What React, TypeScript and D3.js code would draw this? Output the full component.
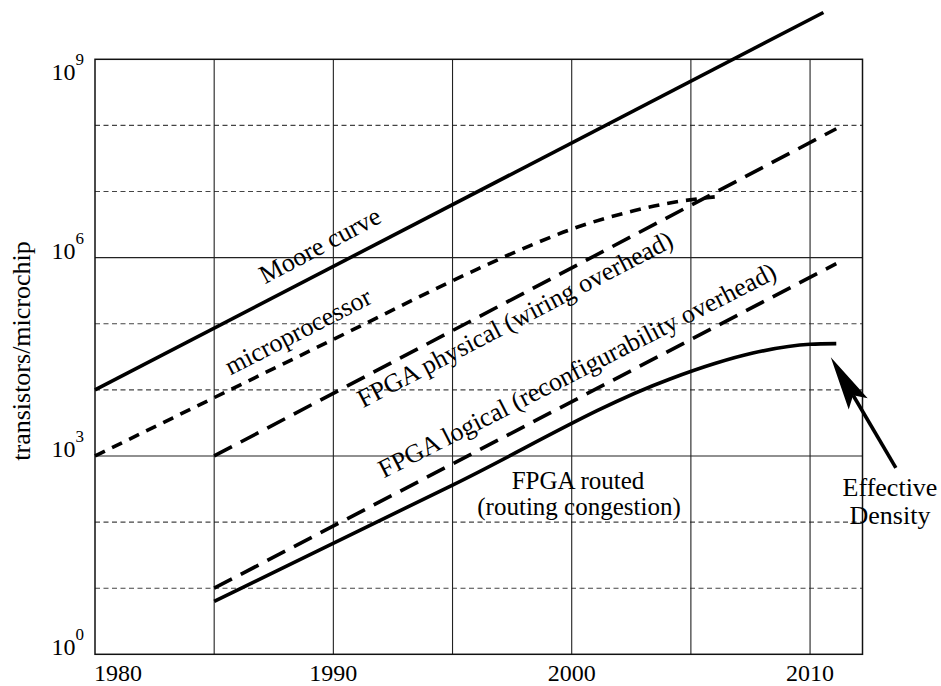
import React from 'react';
import * as d3 from 'd3';

// years / transistor counts
const xTickYears = [1980, 1990, 2000, 2010];
const gridYears = [1985, 1990, 1995, 2000, 2005, 2010];
const gridDecades = [1e1, 1e2, 1e3, 1e4, 1e5, 1e6, 1e7, 1e8];
const solidDecades = [1e3, 1e6];
const yTickExponents = [0, 3, 6, 9];

const mooreCurve: [number, number][] = [[1980, 1e4], [2010.56, 5.1e9]];
const microprocessor: [number, number][] = [
  [1980, 1e3], [1990, 5.8e4], [1996, 6.6e5], [1998.4, 1.6e6],
  [2000, 2.7e6], [2002.6, 5.1e6], [2004, 6.6e6], [2006, 8.3e6],
];
const fpgaPhysical: [number, number][] = [[1985, 1e3], [2011.1, 8.9e7]];
const fpgaLogical: [number, number][] = [[1985, 1e1], [2011.1, 8.1e5]];
const fpgaRouted: [number, number][] = [
  [1985, 6.3], [1995, 363], [2004.1, 1.45e4], [2006, 2.5e4],
  [2007.6, 3.6e4], [2010, 4.9e4], [2011.1, 5.0e4],
];

const W = 941;
const H = 686;
const FONT = '"Liberation Serif", "Times New Roman", serif';

const App = () => {
  const x = d3.scaleLinear().domain([1980, 2012.2]).range([95, 862.5]);
  const y = d3.scaleLog().domain([1, 1e9]).range([654.3, 59.3]);
  const left = x(1980);
  const right = x(2012.2);
  const top = y(1e9);
  const bottom = y(1);

  const line = d3.line<[number, number]>()
    .x(d => x(d[0]))
    .y(d => y(d[1]))
    .curve(d3.curveMonotoneX);

  const series = [
    { data: mooreCurve, dash: null },
    { data: microprocessor, dash: '11 8' },
    { data: fpgaPhysical, dash: '20 10' },
    { data: fpgaLogical, dash: '20 10' },
    { data: fpgaRouted, dash: null },
  ];

  // rotated curve labels (baseline centre, angle)
  const labels = [
    { text: 'Moore curve', x: 324, y: 253, angle: -28 },
    { text: 'microprocessor', x: 302, y: 339, angle: -27 },
    { text: 'FPGA physical (wiring overhead)', x: 519, y: 327, angle: -27.5 },
    { text: 'FPGA logical (reconfigurability overhead)', x: 581, y: 378, angle: -27 },
  ];

  // arrow pointing at the end of the routed curve
  const tail: [number, number] = [x(2013.6), y(660)];
  const tip: [number, number] = [x(2010.87), y(3.1e4)];
  const dx = tail[0] - tip[0];
  const dy = tail[1] - tip[1];
  const len = Math.hypot(dx, dy);
  const ux = dx / len, uy = dy / len;
  const px = uy, py = -ux;
  const head = [
    [tip[0], tip[1]],
    [tip[0] + 54 * ux + 11 * px, tip[1] + 54 * uy + 11 * py],
    [tip[0] + 44 * ux, tip[1] + 44 * uy],
    [tip[0] + 54 * ux - 11 * px, tip[1] + 54 * uy - 11 * py],
  ].map(p => p.join(',')).join(' ');

  return (
    <svg width={W} height={H} style={{ position: 'absolute', left: 0, top: 0, background: '#fff' }}
      fontFamily={FONT}>
      {/* horizontal grid */}
      {gridDecades.map(v => (
        <line key={'h' + v} x1={left} x2={right} y1={y(v)} y2={y(v)}
          stroke={solidDecades.includes(v) ? '#222' : '#444'}
          strokeWidth={1.1}
          strokeDasharray={solidDecades.includes(v) ? undefined : '5 3.5'} />
      ))}
      {/* vertical grid */}
      {gridYears.map(yr => (
        <line key={'v' + yr} x1={x(yr)} x2={x(yr)} y1={top} y2={bottom}
          stroke="#222" strokeWidth={1.1} />
      ))}
      <rect x={left} y={top} width={right - left} height={bottom - top}
        fill="none" stroke="#111" strokeWidth={1.5} />

      {/* curves */}
      {series.map((s, i) => (
        <path key={i} d={line(s.data) || ''} fill="none" stroke="#000"
          strokeWidth={3.6} strokeDasharray={s.dash || undefined} />
      ))}

      {/* x ticks */}
      {xTickYears.map(yr => {
        const first = yr === xTickYears[0];
        return (
          <text key={yr} x={first ? left - 1 : x(yr)} y={681}
            textAnchor={first ? 'start' : 'middle'} fontSize={24}>{yr}</text>
        );
      })}

      {/* y ticks */}
      {yTickExponents.map(e => {
        const yy = Math.max(y(Math.pow(10, e)) + 1, top + 21);
        return (
          <text key={e} x={84} y={yy} textAnchor="end" fontSize={24}>
            10<tspan dy={-15} fontSize={17}>{e}</tspan>
          </text>
        );
      })}

      <text transform={`translate(30,351) rotate(-90)`} textAnchor="middle" fontSize={26}>
        transistors/microchip
      </text>

      {labels.map(l => (
        <text key={l.text} transform={`translate(${l.x},${l.y}) rotate(${l.angle})`}
          textAnchor="middle" fontSize={26}>{l.text}</text>
      ))}

      <text x={578} y={489} textAnchor="middle" fontSize={25}>FPGA routed</text>
      <text x={579} y={515} textAnchor="middle" fontSize={25}>(routing congestion)</text>

      <line x1={tail[0]} y1={tail[1]} x2={tip[0] + 44 * ux} y2={tip[1] + 44 * uy}
        stroke="#000" strokeWidth={3.6} />
      <polygon points={head} fill="#000" />

      <text x={890} y={496} textAnchor="middle" fontSize={26}>Effective</text>
      <text x={890} y={524} textAnchor="middle" fontSize={26}>Density</text>
    </svg>
  );
};

export default App;
